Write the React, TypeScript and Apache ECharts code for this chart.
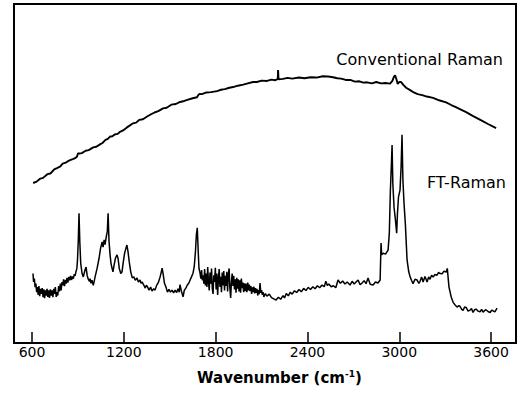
import React, { useEffect, useRef } from "react";
import * as echarts from "echarts";

// Conventional Raman spectrum: [wavenumber (cm-1), relative intensity]
const conventionalRaman: number[][] = [
  [607, 47.2], [630, 47.6], [650, 48.4], [672, 48.7], [700, 49.8], [720, 50.0], [745, 51.2], [763, 51.6],
  [785, 52.1], [800, 52.9], [820, 53.2], [845, 53.9], [870, 54.3], [885, 54.6], [894, 55.0], [900, 55.9],
  [910, 55.9], [925, 56.0], [950, 56.7], [970, 56.9], [1000, 57.7], [1020, 57.9], [1044, 58.6], [1060, 59.0],
  [1080, 59.9], [1095, 60.2], [1110, 60.9], [1125, 61.0], [1140, 61.5], [1160, 61.7], [1175, 62.3], [1195, 62.7],
  [1220, 63.6], [1240, 64.2], [1260, 64.8], [1280, 65.0], [1300, 65.8], [1325, 66.0], [1352, 66.8], [1375, 67.4],
  [1400, 68.0], [1425, 68.4], [1456, 69.2], [1480, 69.4], [1510, 70.3], [1540, 70.5], [1567, 71.1], [1595, 71.4],
  [1620, 71.8], [1650, 72.2], [1678, 72.5], [1688, 73.2], [1695, 73.5], [1710, 73.4], [1740, 73.9], [1770, 74.0],
  [1809, 74.3], [1835, 74.7], [1860, 74.9], [1890, 75.3], [1914, 75.5], [1945, 75.9], [1980, 76.2], [2010, 76.6],
  [2044, 77.0], [2070, 77.0], [2100, 77.4], [2136, 77.3], [2165, 77.7], [2190, 77.5], [2206, 77.9], [2208, 80.5],
  [2211, 77.8], [2240, 77.9], [2270, 78.2], [2300, 78.0], [2345, 78.3], [2380, 78.1], [2420, 78.4], [2460, 78.3],
  [2500, 78.7], [2535, 78.6], [2567, 78.4], [2595, 78.1], [2620, 78.0], [2650, 77.6], [2680, 77.6], [2710, 77.1],
  [2740, 77.2], [2765, 76.8], [2790, 76.9], [2820, 76.6], [2850, 77.0], [2880, 76.6], [2910, 76.7], [2940, 76.5],
  [2955, 77.3], [2965, 78.5], [2973, 79.0], [2980, 78.0], [2990, 76.4], [3000, 77.0], [3012, 77.0], [3025, 76.2],
  [3045, 75.3], [3071, 74.6], [3095, 73.9], [3120, 73.4], [3150, 73.1], [3180, 72.7], [3221, 72.3], [3260, 71.6],
  [3306, 71.0], [3340, 70.2], [3370, 69.6], [3400, 68.9], [3437, 68.1], [3480, 67.0], [3530, 65.8], [3580, 64.6],
  [3633, 63.4],
];

// FT-Raman spectrum: [wavenumber (cm-1), relative intensity]
const ftRaman: number[][] = [
  [606, 20.5], [610, 18.0], [615, 19.0], [620, 16.5], [625, 17.5], [630, 15.0], [635, 16.5], [640, 14.2],
  [645, 16.8], [650, 13.8], [655, 16.0], [660, 14.5], [666, 16.2], [672, 13.5], [677, 15.8], [682, 13.2],
  [688, 15.5], [693, 14.0], [698, 16.0], [703, 13.6], [708, 15.5], [714, 13.3], [720, 15.8], [725, 14.0],
  [731, 15.5], [736, 13.5], [742, 16.0], [747, 14.5], [752, 16.5], [758, 13.6], [763, 15.0], [768, 14.0],
  [774, 16.8], [779, 15.2], [785, 17.5], [790, 15.5], [796, 18.0], [801, 17.0], [806, 18.8], [812, 16.8],
  [818, 18.6], [823, 17.5], [828, 19.2], [834, 17.8], [840, 19.5], [846, 18.5], [852, 19.8], [858, 18.6],
  [864, 19.6], [870, 19.0], [876, 20.3], [881, 19.8], [887, 21.0], [893, 22.0], [897, 24.5], [902, 30.0],
  [907, 38.3], [912, 30.0], [918, 23.5], [927, 20.5], [935, 19.5], [941, 20.6], [946, 21.5], [953, 22.4],
  [960, 20.0], [966, 19.0], [975, 18.2], [980, 19.0], [985, 17.6], [992, 18.5], [1000, 17.0], [1006, 18.2],
  [1012, 19.5], [1025, 22.0], [1038, 25.0], [1048, 28.0], [1058, 29.8], [1064, 28.3], [1071, 30.4], [1077, 29.0],
  [1084, 31.0], [1092, 33.0], [1097, 38.3], [1103, 30.0], [1110, 26.0], [1116, 23.5], [1123, 22.0], [1129, 21.0],
  [1136, 23.0], [1145, 25.0], [1155, 26.0], [1162, 25.0], [1170, 22.0], [1180, 20.5], [1188, 21.0], [1195, 23.5],
  [1205, 26.5], [1214, 28.0], [1220, 28.9], [1227, 27.0], [1235, 24.0], [1245, 21.0], [1255, 19.2], [1265, 19.5],
  [1275, 18.5], [1286, 19.2], [1295, 18.0], [1306, 18.6], [1312, 17.6], [1319, 18.0], [1330, 17.1], [1340, 16.2],
  [1346, 17.0], [1352, 16.8], [1365, 15.6], [1375, 16.5], [1384, 15.3], [1395, 16.0], [1404, 15.6], [1414, 17.0],
  [1425, 17.8], [1437, 19.5], [1445, 21.0], [1450, 22.1], [1458, 20.0], [1465, 17.7], [1475, 16.5], [1485, 15.0],
  [1495, 15.8], [1505, 15.0], [1515, 15.6], [1525, 14.8], [1535, 15.6], [1545, 14.9], [1554, 16.0], [1562, 15.0],
  [1567, 17.2], [1575, 15.5], [1587, 13.6], [1595, 15.5], [1605, 16.2], [1615, 17.1], [1625, 17.7], [1633, 18.6],
  [1642, 19.5], [1652, 20.6], [1660, 22.5], [1668, 27.0], [1674, 32.0], [1680, 34.0], [1686, 27.0], [1691, 22.0],
  [1698, 20.6], [1703, 19.0], [1708, 21.5], [1713, 18.5], [1718, 20.0], [1723, 17.5], [1728, 21.8], [1733, 17.0],
  [1738, 20.5], [1743, 16.5], [1748, 22.4], [1753, 18.0], [1758, 15.5], [1763, 20.8], [1768, 17.5], [1773, 22.0],
  [1778, 16.0], [1783, 14.5], [1788, 20.0], [1793, 18.0], [1798, 22.2], [1803, 15.8], [1808, 20.5], [1813, 14.2],
  [1818, 19.0], [1823, 21.8], [1828, 16.5], [1833, 19.5], [1838, 15.0], [1843, 20.8], [1848, 17.0], [1853, 21.2],
  [1858, 15.5], [1863, 19.8], [1868, 16.8], [1873, 21.0], [1878, 15.2], [1883, 20.2], [1888, 22.0], [1893, 16.2],
  [1898, 13.3], [1903, 18.0], [1908, 20.5], [1913, 16.8], [1918, 19.8], [1923, 15.8], [1928, 18.8], [1933, 14.8],
  [1938, 19.2], [1943, 16.0], [1948, 18.8], [1953, 15.2], [1958, 18.5], [1963, 14.8], [1968, 19.0], [1973, 16.2],
  [1978, 17.8], [1983, 15.0], [1988, 17.6], [1993, 15.3], [1998, 17.5], [2004, 15.0], [2010, 17.8], [2015, 15.5],
  [2020, 17.2], [2025, 15.3], [2030, 16.8], [2035, 14.5], [2040, 16.4], [2045, 15.0], [2050, 16.6], [2055, 14.6],
  [2060, 16.2], [2065, 14.8], [2070, 16.0], [2075, 14.0], [2080, 15.6], [2085, 14.4], [2090, 17.7], [2095, 14.8],
  [2100, 15.6], [2105, 14.2], [2110, 15.0], [2115, 13.6], [2125, 14.6], [2135, 13.8], [2150, 14.4], [2165, 13.4],
  [2180, 13.0], [2195, 12.7], [2210, 13.5], [2225, 12.9], [2240, 14.0], [2250, 13.3], [2262, 14.6], [2275, 13.9],
  [2288, 15.0], [2300, 14.4], [2315, 15.4], [2330, 14.9], [2345, 15.8], [2360, 15.1], [2375, 16.1], [2390, 15.5],
  [2405, 16.4], [2420, 15.8], [2435, 16.6], [2450, 16.0], [2465, 16.9], [2480, 16.3], [2495, 17.1], [2510, 16.6],
  [2520, 18.2], [2530, 17.0], [2540, 17.4], [2555, 16.6], [2570, 16.9], [2585, 16.3], [2600, 18.6], [2615, 17.6],
  [2630, 18.3], [2645, 17.4], [2660, 18.0], [2678, 17.1], [2692, 18.2], [2705, 17.4], [2718, 18.0], [2731, 18.6],
  [2744, 17.2], [2757, 17.7], [2770, 18.4], [2783, 17.5], [2796, 19.2], [2810, 17.3], [2829, 17.1], [2845, 18.0],
  [2861, 17.7], [2875, 18.6], [2881, 29.5], [2885, 26.0], [2894, 26.5], [2910, 26.2], [2927, 27.4], [2935, 32.4],
  [2942, 45.0], [2948, 52.0], [2953, 58.4], [2958, 47.0], [2966, 40.0], [2975, 36.3], [2983, 32.4], [2988, 38.0],
  [2995, 43.1], [3005, 45.1], [3012, 52.0], [3018, 61.4], [3024, 48.0], [3031, 41.3], [3040, 35.0], [3051, 24.5],
  [3062, 21.0], [3071, 19.5], [3080, 18.5], [3090, 17.5], [3103, 18.8], [3116, 18.6], [3128, 17.6], [3136, 18.2],
  [3146, 19.5], [3156, 18.0], [3168, 19.6], [3182, 18.0], [3192, 19.5], [3201, 18.8], [3211, 20.0], [3221, 19.5],
  [3234, 20.2], [3247, 20.0], [3257, 20.8], [3267, 20.5], [3280, 20.4], [3292, 21.2], [3306, 20.9], [3314, 22.0],
  [3325, 16.5], [3340, 13.5], [3352, 12.0], [3365, 11.2], [3378, 10.6], [3390, 11.0], [3397, 10.8], [3407, 10.0],
  [3417, 9.6], [3427, 10.6], [3437, 10.5], [3450, 9.4], [3463, 9.7], [3472, 10.2], [3482, 9.0], [3492, 9.8],
  [3502, 10.0], [3515, 9.4], [3528, 9.2], [3538, 9.9], [3548, 9.1], [3558, 9.6], [3567, 9.8], [3580, 9.3],
  [3594, 9.0], [3604, 9.7], [3613, 9.5], [3625, 9.2], [3639, 10.3],
];

// Axis tick values
const xTickValues = [600, 1200, 1800, 2400, 3000, 3600];

const seriesNames = ["Conventional Raman", "FT-Raman"];

const FONT = "DejaVu Sans";

function App() {
  const ref = useRef<HTMLDivElement>(null);

  useEffect(() => {
    if (!ref.current) return;
    const chart = echarts.init(ref.current, null, { renderer: "svg" });

    chart.setOption({
      animation: false,
      backgroundColor: "#ffffff",
      grid: {
        left: 14,
        right: 16,
        top: 4,
        bottom: 58,
        show: true,
        borderColor: "#000",
        borderWidth: 2,
        backgroundColor: "transparent",
      },
      xAxis: {
        type: "value",
        min: 482,
        max: 3763,
        axisLine: { show: false },
        splitLine: { show: false },
        axisTick: {
          show: true,
          inside: true,
          length: 11,
          customValues: xTickValues,
          lineStyle: { color: "#000", width: 1.5 },
        },
        axisLabel: {
          show: true,
          customValues: xTickValues,
          formatter: (v: number) => String(v),
          margin: 2,
          color: "#000",
          fontFamily: FONT,
          fontSize: 14,
        },
      },
      yAxis: {
        type: "value",
        min: 0,
        max: 100,
        show: false,
      },
      graphic: [
        {
          type: "text",
          left: 197,
          top: 369,
          style: {
            text: "{b|Wavenumber (cm}{s|-1}{b|)}",
            rich: {
              b: { fontFamily: FONT, fontWeight: "bold", fontSize: 15, fill: "#000", lineHeight: 18 },
              s: { fontFamily: FONT, fontWeight: "bold", fontSize: 9, fill: "#000", lineHeight: 18, padding: [0, 0, 9, 0] },
            },
          },
        },
        {
          type: "text",
          right: 29,
          top: 51,
          style: {
            text: seriesNames[0],
            fontFamily: FONT,
            fontSize: 16,
            fill: "#000",
          },
        },
        {
          type: "text",
          right: 26,
          top: 174,
          style: {
            text: seriesNames[1],
            fontFamily: FONT,
            fontSize: 16,
            fill: "#000",
          },
        },
      ],
      series: [
        {
          name: seriesNames[0],
          type: "line",
          data: conventionalRaman,
          showSymbol: false,
          symbol: "none",
          lineStyle: { color: "#000", width: 1.9 },
        },
        {
          name: seriesNames[1],
          type: "line",
          data: ftRaman,
          showSymbol: false,
          symbol: "none",
          lineStyle: { color: "#000", width: 1.5 },
        },
      ],
    });
    return () => chart.dispose();
  }, []);

  return (
    <div
      ref={ref}
      style={{ position: "fixed", left: 0, top: 0, width: 532, height: 401, background: "#fff" }}
    />
  );
}

export default App;
